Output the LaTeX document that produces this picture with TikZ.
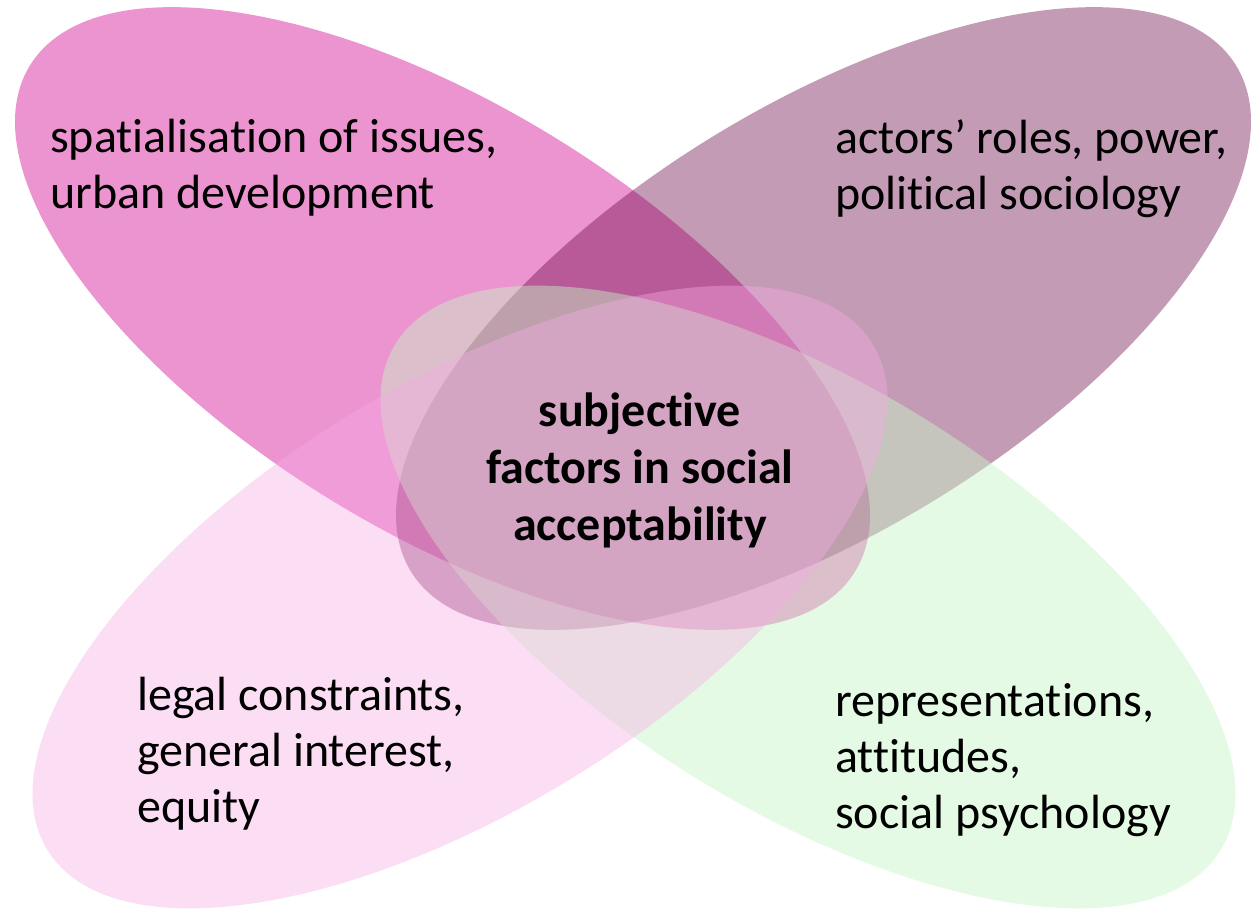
\documentclass[tikz,border=0pt]{standalone}
\usepackage{fontspec}
\setmainfont{Carlito}[Ligatures={NoCommon,NoRare}]
\definecolor{tlcol}{RGB}{236,148,208}
\definecolor{trcol}{RGB}{108,5,70}
\definecolor{brcol}{RGB}{199,246,199}
\definecolor{blcol}{RGB}{247,170,228}
\begin{document}
\begin{tikzpicture}[x=1pt,y=-1pt,
  lbl/.style={font=\fontsize{48}{56}\selectfont, align=left, inner sep=0pt, text=black},
  ctr/.style={font=\fontsize{48}{57}\selectfont\bfseries, align=center, inner sep=0pt, text=black}]
\useasboundingbox[fill=white] (0,0) rectangle (1251,909);
% top-left ellipse
\fill[tlcol, rotate around={-31.5:(442.5,318.5)}] (442.5,318.5) ellipse [x radius=484, y radius=213];
% top-right ellipse
\fill[trcol, fill opacity=0.4, rotate around={31.5:(823.5,318.5)}] (823.5,318.5) ellipse [x radius=484, y radius=213];
% bottom-right ellipse
\fill[brcol, fill opacity=0.45, rotate around={-31.5:(808,597)}] (808,597) ellipse [x radius=484, y radius=213];
% bottom-left ellipse
\fill[blcol, fill opacity=0.4, rotate around={31.5:(460,597)}] (460,597) ellipse [x radius=484, y radius=213];
% labels (base anchor = baseline of last line)
\node[lbl, anchor=base west] (tl) at (50,209) {spatialisation of issues,\\urban development};
\node[lbl, anchor=base west] (tr) at (835,210) {actors’ roles, power,\\political sociology};
\node[lbl, anchor=base west] (bl) at (137,822) {legal constraints,\\general interest,\\equity};
\node[lbl, anchor=base west] (br) at (835,828) {representations,\\attitudes,\\social psychology};
\node[ctr, anchor=base] (c) at (640,540) {subjective\\factors in social\\acceptability};
\end{tikzpicture}
\end{document}
